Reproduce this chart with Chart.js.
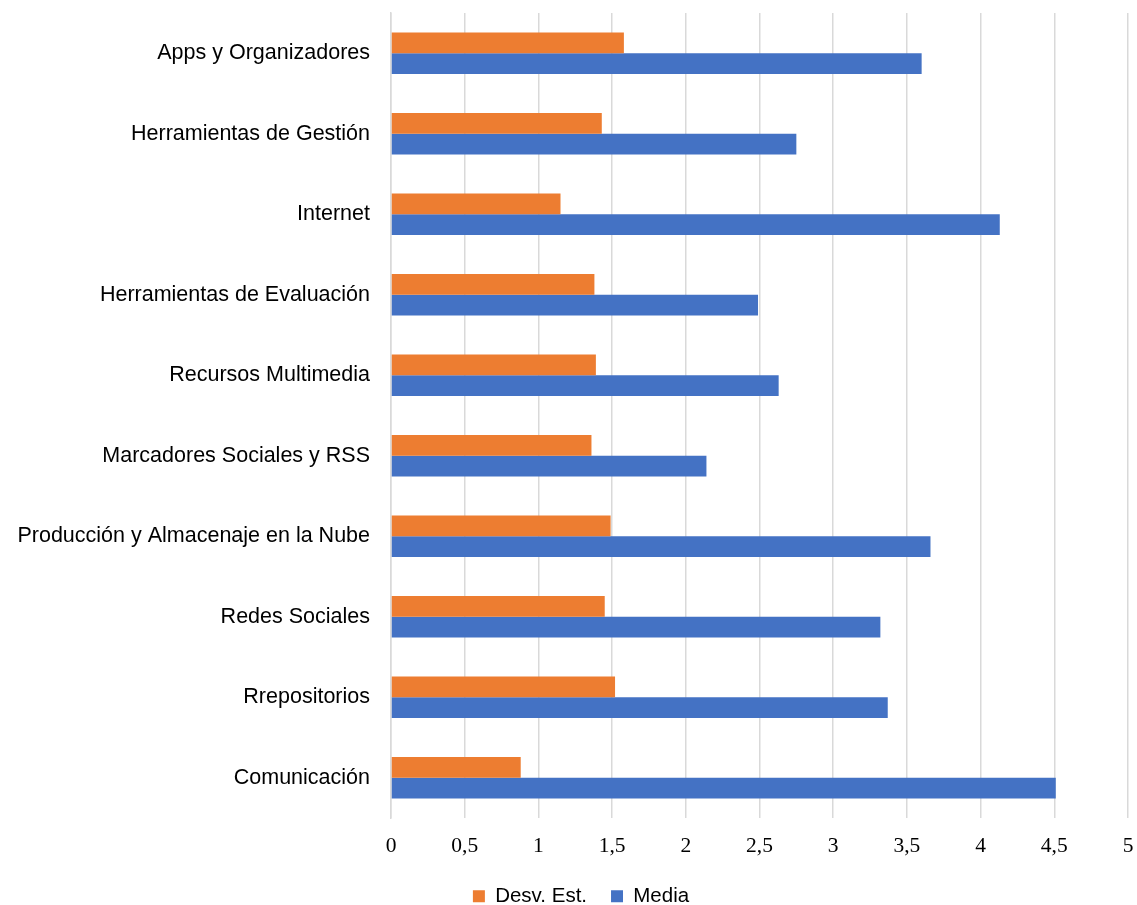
<!DOCTYPE html>
<html>
<head>
<meta charset="utf-8">
<script src="https://cdn.jsdelivr.net/npm/chart.js@4/dist/chart.umd.min.js"></script>
<style>
  html, body { margin: 0; padding: 0; background: #ffffff; }
  #wrap { width: 1137px; height: 905px; position: relative; }
</style>
</head>
<body>
<div id="wrap"><canvas id="c" width="1137" height="905"></canvas></div>
<script>
const categories = [
  "Apps y Organizadores",
  "Herramientas de Gestión",
  "Internet",
  "Herramientas de Evaluación",
  "Recursos Multimedia",
  "Marcadores Sociales y RSS",
  "Producción y Almacenaje en la Nube",
  "Redes Sociales",
  "Rrepositorios",
  "Comunicación"
];
const desvEst = [1.58, 1.43, 1.15, 1.38, 1.39, 1.36, 1.49, 1.45, 1.52, 0.88];
const media   = [3.60, 2.75, 4.13, 2.49, 2.63, 2.14, 3.66, 3.32, 3.37, 4.51];
const xTicks  = [0, 0.5, 1, 1.5, 2, 2.5, 3, 3.5, 4, 4.5, 5];

// Legend placement helper: fixed legend box height, shifted position
const legendPlacement = {
  id: 'legendPlacement',
  afterInit(chart) {
    const l = chart.legend;
    if (!l) return;
    const origFit = l.fit.bind(l);
    l.fit = function () { origFit(); this.height = 46; };
  },
  afterLayout(chart) {
    const l = chart.legend;
    if (!l) return;
    l.left += 17; l.right += 17;
    l.top += 3; l.bottom += 3;
  }
};

const ctx = document.getElementById('c');
new Chart(ctx, {
  type: 'bar',
  data: {
    labels: categories,
    datasets: [
      { label: 'Desv. Est.', data: desvEst, backgroundColor: '#ED7D31', categoryPercentage: 0.515, barPercentage: 1.0 },
      { label: 'Media', data: media, backgroundColor: '#4472C4', categoryPercentage: 0.515, barPercentage: 1.0 }
    ]
  },
  options: {
    indexAxis: 'y',
    responsive: false,
    animation: false,
    layout: { padding: { top: 13, right: 9, left: 0, bottom: 0 } },
    scales: {
      x: {
        min: 0, max: 5,
        afterBuildTicks: (s) => { s.ticks = xTicks.map(v => ({ value: v })); },
        grid: { color: '#d9d9d9', lineWidth: 1.5, drawTicks: false },
        border: { display: false },
        ticks: {
          padding: 15,
          color: '#000000',
          font: { family: '"Liberation Serif", "Times New Roman", serif', size: 21.5 },
          callback: (v) => String(v).replace('.', ',')
        },
        afterFit: (s) => { s.height = 41; s.paddingLeft = 0; s.paddingRight = 0; }
      },
      y: {
        grid: { display: false, drawTicks: false },
        border: { display: true, color: '#d9d9d9', width: 1.5 },
        ticks: {
          padding: 21,
          color: '#000000',
          font: { family: '"Liberation Sans", Arial, sans-serif', size: 21.5 }
        },
        afterFit: (s) => { s.width = 391; s.paddingTop = 0; s.paddingBottom = 0; }
      }
    },
    plugins: {
      legend: {
        position: 'bottom',
        labels: {
          boxWidth: 12, boxHeight: 12, padding: 24,
          color: '#000000',
          font: { family: '"Liberation Sans", Arial, sans-serif', size: 20.5 }
        }
      },
      tooltip: { enabled: false }
    }
  },
  plugins: [legendPlacement]
});
</script>
</body>
</html>
